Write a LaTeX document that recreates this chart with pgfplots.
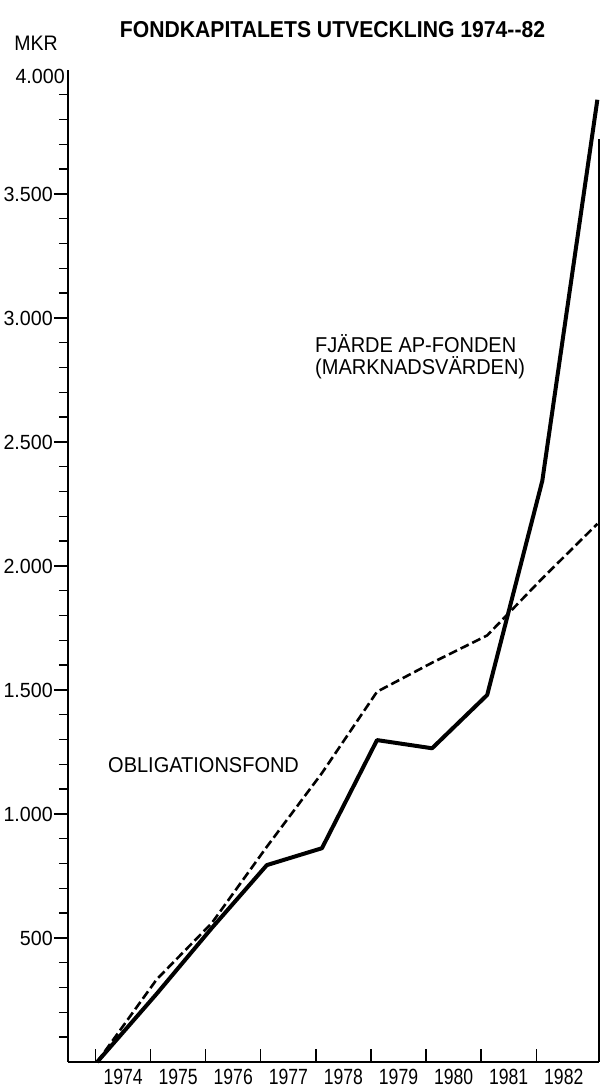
\documentclass[border=0pt]{standalone}
\usepackage{pgfplots}
\pgfplotsset{compat=1.18}
\usepackage{fontspec}
\setmainfont{Liberation Sans}
\newfontfamily\numfont[FakeStretch=0.8]{Liberation Sans}
\newfontfamily\tickfont[FakeStretch=0.96]{Liberation Sans}
\newfontfamily\labfont[FakeStretch=0.93]{Liberation Sans}
\newfontfamily\titlefont[FakeStretch=0.92]{Liberation Sans}
\tikzset{year/.style={anchor=north, inner sep=0pt, yshift=-7pt, font=\numfont\fontsize{22}{25}\selectfont}}
\begin{document}
\begin{tikzpicture}
\begin{axis}[
  at={(0pt,0pt)}, anchor=south west,
  scale only axis, width=531pt, height=992pt,
  xmin=-0.61, xmax=9.03, ymin=0, ymax=4000,
  axis x line=bottom, axis y line=left,
  axis line style={-, line width=1.8pt},
  tick style={line width=1.4pt, black},
  tick align=outside,
  major tick length=14pt, minor tick length=9pt,
  ytick={500,1000,1500,2000,2500,3000,3500},
  yticklabels={500,1.000,1.500,2.000,2.500,3.000,3.500},
  minor ytick={100,200,300,400,600,700,800,900,1100,1200,1300,1400,1600,1700,1800,1900,2100,2200,2300,2400,2600,2700,2800,2900,3100,3200,3300,3400,3600,3700,3800,3900},
  extra y ticks={4000},
  extra y tick labels={4.000},
  extra y tick style={major tick length=0pt, yticklabel style={yshift=-6pt, xshift=-2pt}},
  yticklabel style={font=\tickfont\fontsize{20.5}{24}\selectfont, inner sep=1pt},
  xtick=\empty,
  extra x ticks={-0.11,0.89,1.89,2.89,3.89,4.89,5.89,6.89,7.89},
  extra x tick labels={},
  extra x tick style={tick align=inside, major tick length=13pt},
  clip=false,
]
% Obligationsfond (dashed)
\addplot[black, line width=2.6pt, dash pattern=on 9pt off 4pt] coordinates {
  (-0.08,0) (1,333) (2,560) (3,868) (4,1165) (5,1493) (6,1610) (7,1720) (8,1950) (9,2170)
};
% Fjaerde AP-fonden (solid)
\addplot[black, line width=4pt, line join=round] coordinates {
  (-0.08,0) (1,275) (2,540) (3,794) (4,862) (5,1298) (6,1265) (7,1480) (8,2343) (9,3880)
};
\draw[line width=1.6pt] (rel axis cs:1,0) -- (rel axis cs:1,0.93);
\node[year] at (axis cs:0.39,0) {1974};
\node[year] at (axis cs:1.39,0) {1975};
\node[year] at (axis cs:2.39,0) {1976};
\node[year] at (axis cs:3.39,0) {1977};
\node[year] at (axis cs:4.39,0) {1978};
\node[year] at (axis cs:5.39,0) {1979};
\node[year] at (axis cs:6.39,0) {1980};
\node[year] at (axis cs:7.39,0) {1981};
\node[year] at (axis cs:8.39,0) {1982};
\end{axis}
\node[font=\titlefont\bfseries\fontsize{23}{27}\selectfont] at (264.5pt,1032pt) {FONDKAPITALETS UTVECKLING 1974{-}{-}82};
\node[font=\labfont\fontsize{21}{24}\selectfont] at (-32pt,1019pt) {MKR};
\node[anchor=west, align=left, inner sep=0pt, font=\labfont\fontsize{21.5}{22}\selectfont] at (247pt,705pt) {FJÄRDE AP-FONDEN\\(MARKNADSVÄRDEN)};
\node[anchor=west, inner sep=0pt, font=\labfont\fontsize{21.5}{24}\selectfont] at (40pt,297pt) {OBLIGATIONSFOND};
\pgfresetboundingbox
\path[use as bounding box] (-68pt,-26pt) rectangle (535pt,1062pt);
\end{tikzpicture}
\end{document}
